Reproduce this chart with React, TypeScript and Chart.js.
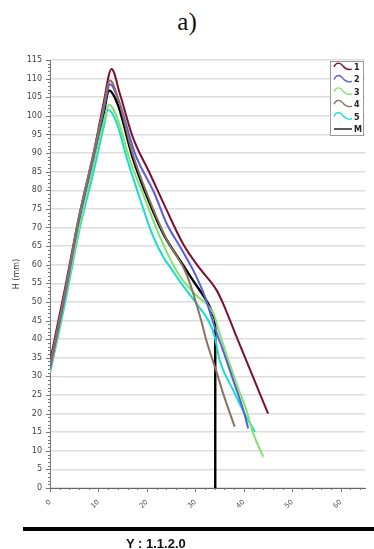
import React, { useEffect, useRef } from "react";
import { Chart, registerables } from "chart.js";

Chart.register(...registerables);

// Series 1
const s1x = [0, 3, 6, 9, 11, 12.7, 14.4, 17.1, 20.6, 24.1, 27.5, 30.9, 34.4, 35.7, 38.5, 42, 45];
const s1y = [34, 53, 73, 90, 103, 112.6, 106, 94.2, 84.5, 74.6, 65.5, 59, 53.1, 49.6, 40.6, 29.5, 20];
// Series 2
const s2x = [0, 3, 6, 9, 11, 12.4, 14.2, 17.5, 21.6, 24.1, 27.2, 29.9, 32, 33.3, 34.4, 35.7, 37.8, 39.9, 40.9];
const s2y = [32, 51, 72, 89, 101, 108.5, 104, 90, 79, 71, 64, 57.6, 51.3, 46, 41.6, 37, 29, 20.9, 16];
// Series 3
const s3x = [0, 3, 6, 9, 11, 12.2, 14, 16.5, 19.2, 22.5, 26.5, 30, 33.7, 35, 38.5, 40.5, 41.9, 44];
const s3y = [31, 50, 70, 87, 98, 103, 99, 88, 79, 68, 57.5, 52, 46.9, 41.5, 28, 21, 14.8, 8.4];
// Series 4
const s4x = [0, 3, 6, 9, 11, 12.4, 14.2, 17, 20.5, 24, 27.8, 29, 30.2, 31.3, 32.3, 34.4, 35.7, 38.1];
const s4y = [33, 52, 73, 90, 102, 109.5, 104, 90, 77.5, 67, 58.5, 54.5, 49.5, 44.5, 39.5, 31, 25.5, 16.5];
// Series 5
const s5x = [0, 3, 6, 9, 11, 12, 13.8, 16, 18.5, 21, 23.4, 25.1, 26.8, 30.2, 33, 34, 35, 37.8, 40.5, 42.3];
const s5y = [31, 49, 69, 85, 96.5, 101.6, 98, 88, 78, 68.5, 62, 58.8, 55.5, 49.6, 44.2, 40.6, 34.4, 26.3, 19.1, 15.1];
// Mean (M)
const mx = [0, 3, 6, 9, 11, 12.2, 14, 17, 20.6, 23.5, 26.8, 29.5, 33, 34.1];
const my = [31.5, 50.5, 71, 88, 100, 106.8, 103, 89, 76.4, 68, 61.2, 55.8, 48.6, 45];
const mDropX = [34.1, 34.1];
const mDropY = [45, 0];

const seriesLabels = ["1", "2", "3", "4", "5", "M"];
const seriesColors = ["#7a1030", "#5c5cd8", "#80e46c", "#8a7262", "#18dccf", "#000000"];

const yTicks = [0, 5, 10, 15, 20, 25, 30, 35, 40, 45, 50, 55, 60, 65, 70, 75, 80, 85, 90, 95, 100, 105, 110, 115];
const xTicks = [0, 10, 20, 30, 40, 50, 60];

const pts = (xs: number[], ys: number[]) => xs.map((x, i) => ({ x, y: ys[i] }));

const minorTicks = {
  id: "minorTicks",
  afterDraw(chart: any) {
    const ctx = chart.ctx;
    const xs = chart.scales.x;
    const ys = chart.scales.y;
    const ca = chart.chartArea;
    ctx.save();
    ctx.strokeStyle = "#777";
    ctx.lineWidth = 1;
    for (let v = 0; v <= 115; v += 1) {
      const y = Math.round(ys.getPixelForValue(v)) + 0.5;
      const len = v % 5 === 0 ? 4 : 2;
      ctx.beginPath();
      ctx.moveTo(ca.left - len, y);
      ctx.lineTo(ca.left, y);
      ctx.stroke();
    }
    for (let v = 0; v <= 65; v += 2) {
      const x = Math.round(xs.getPixelForValue(v)) + 0.5;
      const len = v % 10 === 0 ? 4 : 2;
      ctx.beginPath();
      ctx.moveTo(x, ca.bottom);
      ctx.lineTo(x, ca.bottom + len);
      ctx.stroke();
    }
    ctx.restore();
  },
};

const customLegend = {
  id: "customLegend",
  afterDraw(chart: any) {
    const ctx = chart.ctx;
    ctx.save();
    const bx = 330, by = 61, bw = 33, bh = 74;
    ctx.fillStyle = "#fff";
    ctx.fillRect(bx, by, bw, bh);
    ctx.strokeStyle = "#9a9a9a";
    ctx.lineWidth = 1;
    ctx.strokeRect(bx + 0.5, by + 0.5, bw, bh);
    seriesLabels.forEach((lab, i) => {
      const cy = 67 + i * 12.4;
      ctx.strokeStyle = seriesColors[i];
      ctx.lineWidth = 1.3;
      ctx.beginPath();
      if (lab === "M") {
        ctx.moveTo(334, cy);
        ctx.lineTo(352, cy);
      } else {
        ctx.moveTo(334, cy);
        ctx.bezierCurveTo(336, cy - 5, 340, cy - 5, 343, cy - 1);
        ctx.bezierCurveTo(346, cy + 3, 349, cy + 3, 352, cy + 2);
      }
      ctx.stroke();
      ctx.fillStyle = "#222";
      ctx.font = "bold 8px 'DejaVu Sans'";
      ctx.textBaseline = "middle";
      ctx.textAlign = "left";
      ctx.fillText(lab, 354, cy + 1);
    });
    ctx.restore();
  },
};

export default function App() {
  const ref = useRef<HTMLCanvasElement | null>(null);
  useEffect(() => {
    if (!ref.current) return;
    const mk = (label: string, xs: number[], ys: number[], color: string, w: number, smooth = true) => ({
      label,
      data: pts(xs, ys),
      borderColor: color,
      backgroundColor: color,
      borderWidth: w,
      pointRadius: 0,
      tension: smooth ? 0.4 : 0,
      cubicInterpolationMode: smooth ? "monotone" : "default",
      fill: false,
    });
    const chart = new Chart(ref.current, {
      type: "line",
      data: {
        datasets: [
          mk("4", s4x, s4y, seriesColors[3], 2),
          mk("2", s2x, s2y, seriesColors[1], 2),
          mk("3", s3x, s3y, seriesColors[2], 2),
          mk("5", s5x, s5y, seriesColors[4], 2),
          mk("1", s1x, s1y, seriesColors[0], 2),
          mk("M", mx, my, seriesColors[5], 2.4),
          mk("Mdrop", mDropX, mDropY, seriesColors[5], 2.4, false),
        ] as any,
      },
      options: {
        animation: false,
        responsive: false,
        maintainAspectRatio: false,
        layout: { padding: { top: 60, right: 9, bottom: 0, left: 0 } },
        plugins: { legend: { display: false }, tooltip: { enabled: false }, title: { display: false } },
        scales: {
          x: {
            type: "linear",
            min: 0,
            max: 65,
            afterFit(scale: any) {
              scale.height = 61;
            },
            afterBuildTicks(scale: any) {
              scale.ticks = xTicks.map((v) => ({ value: v }));
            },
            ticks: {
              includeBounds: false,
              autoSkip: false,
              minRotation: 45,
              maxRotation: 45,
              padding: 10,
              color: "#555",
              font: { family: "'DejaVu Sans'", size: 7 },
            },
            grid: { display: false, drawTicks: false },
            border: { display: true, color: "#666", width: 1 },
          },
          y: {
            min: 0,
            max: 115,
            afterFit(scale: any) {
              scale.width = 50;
            },
            afterBuildTicks(scale: any) {
              scale.ticks = yTicks.map((v) => ({ value: v }));
            },
            ticks: {
              autoSkip: false,
              padding: 8,
              color: "#444",
              font: { family: "'DejaVu Sans'", size: 8 },
            },
            grid: { color: "#dddddd", lineWidth: 1.5, drawTicks: false },
            border: { display: true, color: "#777", width: 1 },
            title: {
              display: true,
              text: "H (mm)",
              color: "#333",
              font: { family: "'DejaVu Sans'", size: 8 },
              padding: { top: 12, bottom: 0 },
            },
          },
        },
      },
      plugins: [minorTicks, customLegend],
    });
    return () => chart.destroy();
  }, []);

  return (
    <div style={{ position: "absolute", left: 0, top: 0, width: 374, height: 549, overflow: "hidden", background: "#fff" }}>
      <div style={{ position: "absolute", left: 0, width: 374, top: 8, textAlign: "center", fontFamily: "'Liberation Serif', serif", fontSize: 25, lineHeight: "28px", color: "#111" }}>
        a)
      </div>
      <canvas ref={ref} width={374} height={549} style={{ position: "absolute", left: 0, top: 0, width: 374, height: 549 }} />
      <div style={{ position: "absolute", left: 23, top: 527, width: 351, height: 4, background: "#000" }} />
      <div style={{ position: "absolute", left: 126, top: 536, fontFamily: "'Liberation Sans', Arial, sans-serif", fontWeight: "bold", fontSize: 13, lineHeight: "16px", color: "#111", whiteSpace: "pre" }}>
        Y : 1.1.2.0
      </div>
    </div>
  );
}
